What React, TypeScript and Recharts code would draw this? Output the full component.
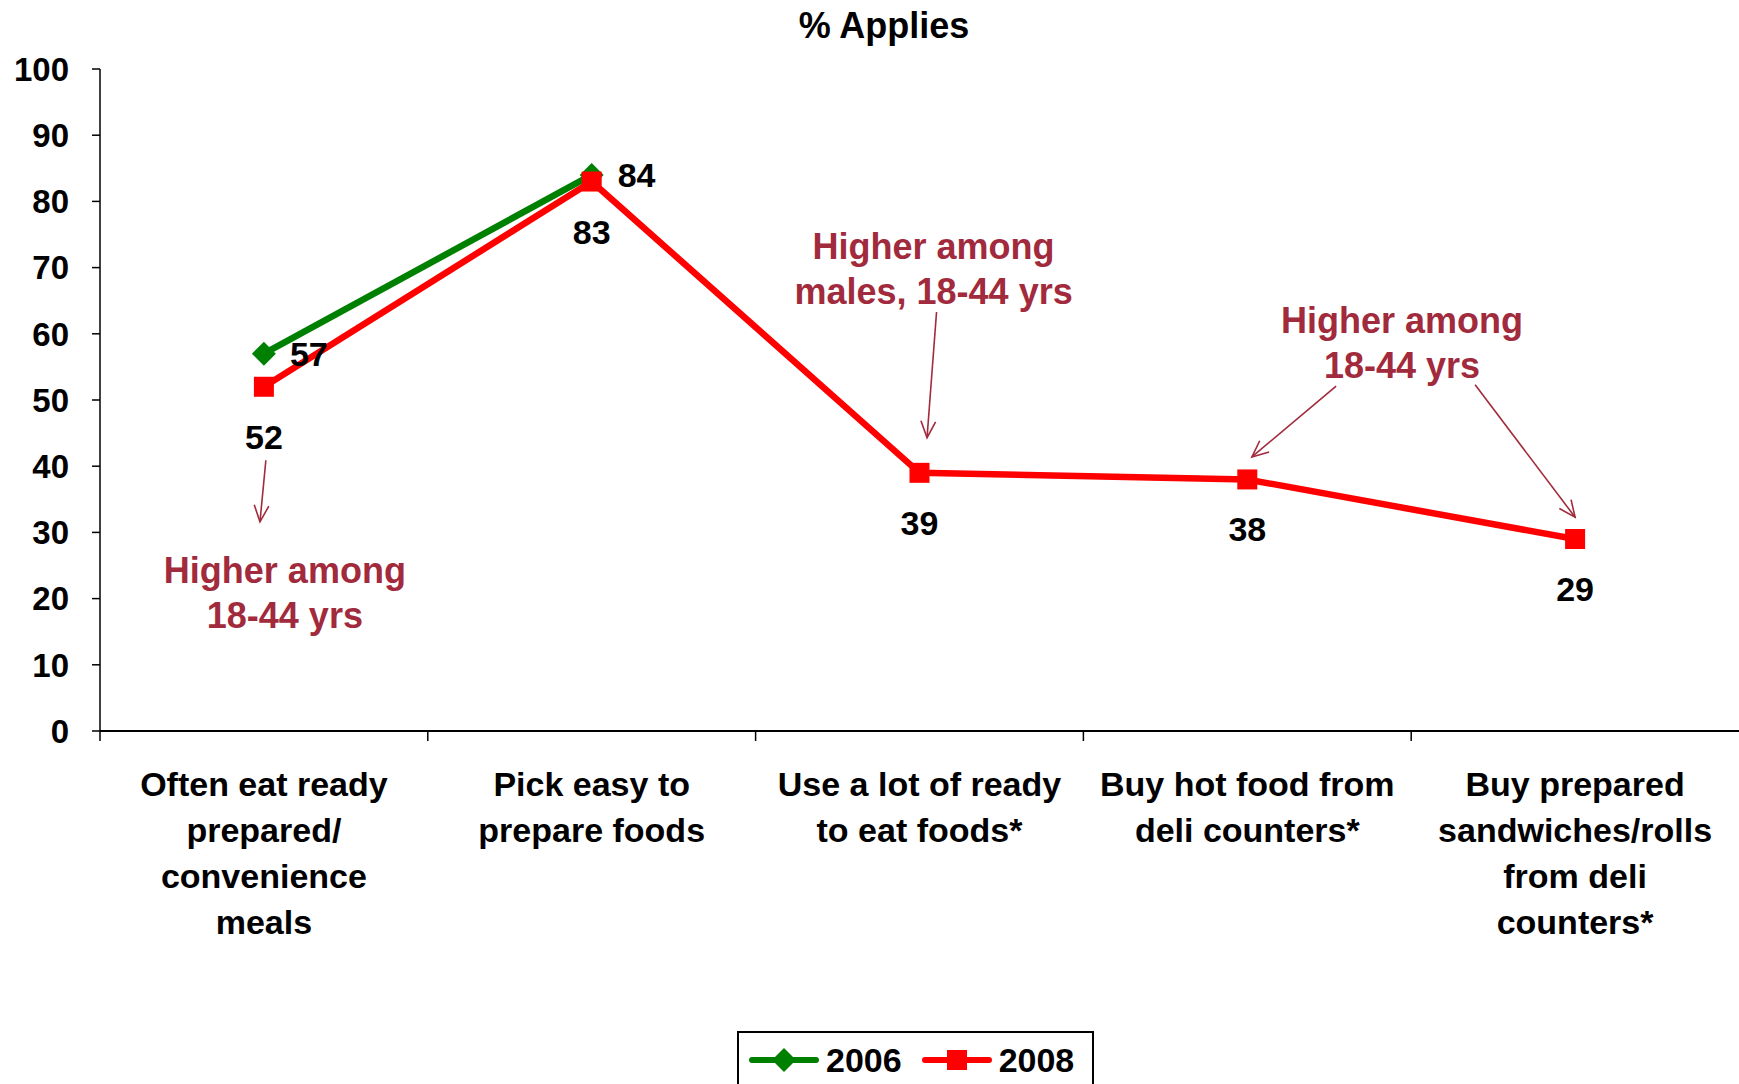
import React from 'react';
import { LineChart, Line, XAxis, YAxis, Legend, ReferenceLine, ReferenceDot } from 'recharts';

const FONT = '"Liberation Sans", Arial, Helvetica, sans-serif';
const NOTE = '#A12A3C';

const categories = [
  'Often eat ready prepared/ convenience meals',
  'Pick easy to prepare foods',
  'Use a lot of ready to eat foods*',
  'Buy hot food from deli counters*',
  'Buy prepared sandwiches/rolls from deli counters*',
];
const categoryLines = [
  ['Often eat ready', 'prepared/', 'convenience', 'meals'],
  ['Pick easy to', 'prepare foods'],
  ['Use a lot of ready', 'to eat foods*'],
  ['Buy hot food from', 'deli counters*'],
  ['Buy prepared', 'sandwiches/rolls', 'from deli', 'counters*'],
];
const values2006 = [57, 84, null, null, null];
const values2008 = [52, 83, 39, 38, 29];
const yTicks = [0, 10, 20, 30, 40, 50, 60, 70, 80, 90, 100];

// callouts, placed on a 0-5 position axis (one unit per category) and the value axis
const notes = [
  { lines: ['Higher among', '18-44 yrs'], x: 0.564, y: 22.4 },
  { lines: ['Higher among', 'males, 18-44 yrs'], x: 2.543, y: 71.3 },
  { lines: ['Higher among', '18-44 yrs'], x: 3.972, y: 60.1 },
];
const arrows = [
  { x1: 0.506, y1: 40.9, x2: 0.488, y2: 31.6 },
  { x1: 2.552, y1: 63.3, x2: 2.523, y2: 44.3 },
  { x1: 3.771, y1: 52.1, x2: 3.514, y2: 41.4 },
  { x1: 4.195, y1: 52.3, x2: 4.5, y2: 32.3 },
];

const data = categories.map((name, i) => ({ name, pos: i + 0.5, y2006: values2006[i], y2008: values2008[i] }));

const W = 1739;
const H = 1084;
const Y_WIDTH = 100;
const halfBand = (W - Y_WIDTH) / categories.length / 2;

const CategoryTick = (props: any) => {
  const { x, y, index } = props;
  const lines = categoryLines[index] || [];
  return (
    <g>
      <line x1={x - halfBand} y1={y} x2={x - halfBand} y2={y + 10} stroke="#000" strokeWidth={1.5} />
      <text x={x} y={y} textAnchor="middle" fill="#000" fontSize={34} fontWeight="bold" fontFamily={FONT}>
        {lines.map((l, i) => (
          <tspan key={i} x={x} dy={i === 0 ? 65 : 46}>{l}</tspan>
        ))}
      </text>
    </g>
  );
};

const SquareDot = (props: any) => {
  const { cx, cy } = props;
  if (cy == null || cx == null) return <g key={props.index} />;
  return <rect key={props.index} x={cx - 10} y={cy - 10} width={20} height={20} fill="#FF0000" />;
};

const DiamondDot = (props: any) => {
  const { cx, cy } = props;
  if (cy == null || cx == null) return <g key={props.index} />;
  return (
    <polygon
      key={props.index}
      points={`${cx},${cy - 12} ${cx + 12},${cy} ${cx},${cy + 12} ${cx - 12},${cy}`}
      fill="#008000"
    />
  );
};

const labelBelow = (props: any) => {
  const x = props.x ?? props.viewBox?.x;
  const y = props.y ?? props.viewBox?.y;
  if (props.value == null || y == null) return null;
  return (
    <text key={props.index} x={x} y={y + 50} dy={12} textAnchor="middle" fill="#000" fontSize={34} fontWeight="bold" fontFamily={FONT}>
      {props.value}
    </text>
  );
};

const labelRight = (props: any) => {
  const x = props.x ?? props.viewBox?.x;
  const y = props.y ?? props.viewBox?.y;
  if (props.value == null || y == null) return null;
  return (
    <text key={props.index} x={x + 26} y={y} dy={12} textAnchor="start" fill="#000" fontSize={34} fontWeight="bold" fontFamily={FONT}>
      {props.value}
    </text>
  );
};

const NoteText = (lines: string[]) => (props: any) => {
  const { cx, cy } = props;
  return (
    <text x={cx} y={cy} textAnchor="middle" fill={NOTE} fontSize={36} fontWeight="bold" fontFamily={FONT}>
      {lines.map((l, i) => (
        <tspan key={i} x={cx} dy={i === 0 ? 0 : 45}>{l}</tspan>
      ))}
    </text>
  );
};

const ArrowShape = (props: any) => {
  const { x1, y1, x2, y2 } = props;
  const ang = Math.atan2(y2 - y1, x2 - x1);
  const len = 18;
  const spread = 0.42;
  const ax = x2 - len * Math.cos(ang - spread);
  const ay = y2 - len * Math.sin(ang - spread);
  const bx = x2 - len * Math.cos(ang + spread);
  const by = y2 - len * Math.sin(ang + spread);
  return (
    <g>
      <line x1={x1} y1={y1} x2={x2} y2={y2} stroke={NOTE} strokeWidth={1.6} />
      <polyline points={`${ax},${ay} ${x2},${y2} ${bx},${by}`} fill="none" stroke={NOTE} strokeWidth={1.6} />
    </g>
  );
};

const LegendIcon = ({ color, type }: { color: string; type: string }) => (
  <svg width={72} height={26} style={{ display: 'block' }}>
    <line x1={4} y1={13} x2={68} y2={13} stroke={color} strokeWidth={6} strokeLinecap="round" />
    {type === 'diamond' ? (
      <polygon points="36,1 48,13 36,25 24,13" fill={color} />
    ) : (
      <rect x={26} y={3} width={20} height={20} fill={color} />
    )}
  </svg>
);

const LegendBox = (props: any) => {
  const payload = props.payload || [];
  return (
    <div
      style={{
        position: 'absolute',
        left: 737,
        top: 0,
        width: 344,
        height: 54,
        border: '2px solid #000',
        background: '#fff',
        display: 'flex',
        alignItems: 'center',
        paddingLeft: 9,
        boxSizing: 'content-box',
      }}
    >
      {payload.map((p: any, i: number) => (
        <div key={i} style={{ display: 'flex', alignItems: 'center', marginRight: 19 }}>
          <LegendIcon color={p.color} type={p.value === '2006' ? 'diamond' : 'square'} />
          <span style={{ marginLeft: 6, fontFamily: FONT, fontWeight: 'bold', fontSize: 34, lineHeight: 1, color: '#000' }}>
            {p.value}
          </span>
        </div>
      ))}
    </div>
  );
};

export default function App() {
  return (
    <div style={{ position: 'fixed', left: 0, top: 0, width: W, height: H, overflow: 'hidden', background: '#fff' }}>
      <LineChart width={W} height={H} data={data} margin={{ top: 69, right: 0, left: 0, bottom: 0 }}>
        <XAxis
          dataKey="name"
          height={300}
          interval={0}
          padding={{ left: halfBand, right: halfBand }}
          tickLine={false}
          tickSize={0}
          tickMargin={0}
          tick={<CategoryTick />}
          axisLine={{ stroke: '#000', strokeWidth: 2 }}
        />
        <XAxis xAxisId="b" dataKey="pos" type="number" domain={[0, 5]} allowDataOverflow hide />
        <YAxis
          domain={[0, 100]}
          ticks={yTicks}
          width={Y_WIDTH}
          tickSize={8}
          tickMargin={23}
          interval={0}
          tick={{ fill: '#000', fontSize: 33, fontWeight: 'bold', fontFamily: FONT }}
          axisLine={{ stroke: '#000', strokeWidth: 1.5 }}
          tickLine={{ stroke: '#000', strokeWidth: 1.5 }}
        />
        <Legend verticalAlign="bottom" height={53} content={<LegendBox />} />
        <text x={884} y={38} textAnchor="middle" fill="#000" fontSize={36} fontWeight="bold" fontFamily={FONT}>
          % Applies
        </text>
        {arrows.map((a, i) => (
          <ReferenceLine
            key={`arrow-${i}`}
            xAxisId="b"
            segment={[{ x: a.x1, y: a.y1 }, { x: a.x2, y: a.y2 }]}
            shape={ArrowShape}
          />
        ))}
        {notes.map((n, i) => (
          <ReferenceDot key={`note-${i}`} xAxisId="b" x={n.x} y={n.y} r={0} shape={NoteText(n.lines)} />
        ))}
        <Line
          name="2006"
          dataKey="y2006"
          stroke="#008000"
          strokeWidth={6.5}
          dot={DiamondDot}
          activeDot={false}
          label={labelRight}
          isAnimationActive={false}
        />
        <Line
          name="2008"
          dataKey="y2008"
          stroke="#FF0000"
          strokeWidth={6.5}
          dot={SquareDot}
          activeDot={false}
          label={labelBelow}
          isAnimationActive={false}
        />
      </LineChart>
    </div>
  );
}
